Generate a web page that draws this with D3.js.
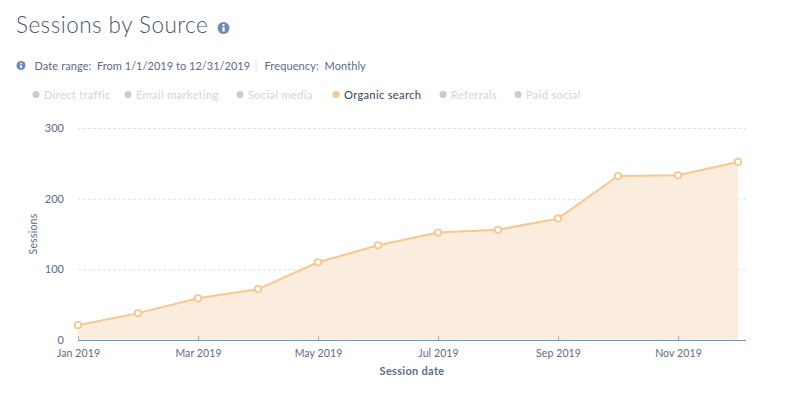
<!DOCTYPE html>
<html><head><meta charset="utf-8">
<script src="https://cdnjs.cloudflare.com/ajax/libs/d3/7.8.5/d3.min.js"></script>
<style>html,body{margin:0;background:#fff}svg{display:block;font-family:Lato,sans-serif}</style>
</head><body><svg id="c" width="800" height="401"></svg>
<script>
const months=["2019-01","2019-02","2019-03","2019-04","2019-05","2019-06","2019-07","2019-08","2019-09","2019-10","2019-11","2019-12"];
const sessions=[21,38,59,72,110,134,152,156,172,232,233,252];
const yTicks=[0,100,200,300];
const xTickMonths=["2019-01","2019-03","2019-05","2019-07","2019-09","2019-11"];
const xTickLabels=["Jan 2019","Mar 2019","May 2019","Jul 2019","Sep 2019","Nov 2019"];
const legendNames=["Direct traffic","Email marketing","Social media","Organic search","Referrals","Paid social"];
const legendActive=["Organic search"];
const legendX=[32,124,236,332,439,514];

const svg=d3.select("#c");
const x=d3.scalePoint().domain(months).range([78,738]);
const y=d3.scaleLinear().domain([0,300]).range([340,128]);
const dark="#33475b",mid="#5c6b84",line="#f8c78d";

svg.append("text").attr("x",16).attr("y",33).attr("font-size",22.5).attr("font-weight",300).attr("letter-spacing",0.47).attr("fill","#4a5472").text("Sessions by Source");
function info(cx,cy,r){
  const g=svg.append("g");
  g.append("circle").attr("cx",cx).attr("cy",cy).attr("r",r).attr("fill","#6a8bb3");
  g.append("rect").attr("x",cx-r*0.17).attr("y",cy-r*0.15).attr("width",r*0.36).attr("height",r*0.75).attr("fill","#fff");
  g.append("circle").attr("cx",cx).attr("cy",cy-r*0.48).attr("r",r*0.2).attr("fill","#fff");
}
info(223.5,28,6);
info(21,65.5,4.5);
const dateLine=svg.append("text").attr("y",69.5).attr("font-size",11).attr("letter-spacing",0.1).attr("fill",mid);
dateLine.append("tspan").attr("x",34.5).text("Date range:");
dateLine.append("tspan").attr("x",97).attr("letter-spacing",0.02).text("From 1/1/2019 to 12/31/2019");
svg.append("line").attr("x1",256).attr("x2",256).attr("y1",59).attr("y2",72).attr("stroke","#dfe3eb");
const freqLine=svg.append("text").attr("y",69.5).attr("font-size",11).attr("letter-spacing",0.1).attr("fill",mid);
freqLine.append("tspan").attr("x",264.5).text("Frequency:");
freqLine.append("tspan").attr("x",324.5).text("Monthly");

const lg=svg.append("g").selectAll("g").data(legendNames).join("g");
lg.append("circle").attr("cx",(d,i)=>legendX[i]+4).attr("cy",94.5).attr("r",3.5)
  .attr("fill",d=>legendActive.includes(d)?"#f8c78d":"#cbcbcb");
lg.append("text").attr("x",(d,i)=>legendX[i]+12).attr("y",98.5).attr("font-size",11.2).attr("letter-spacing",0.3)
  .attr("fill",d=>legendActive.includes(d)?dark:"#d4d4d4").text(d=>d);

svg.append("g").selectAll("line").data(yTicks.filter(d=>d>0)).join("line")
  .attr("x1",78).attr("x2",746).attr("y1",d=>y(d)+.5).attr("y2",d=>y(d)+.5)
  .attr("stroke","#dbe4f0").attr("stroke-dasharray","3,2");

const pts=months.map((m,i)=>({m,v:sessions[i]}));
svg.append("path").datum(pts).attr("fill","#fbeddd")
  .attr("d",d3.area().x(d=>x(d.m)).y0(y(0)).y1(d=>y(d.v)));
svg.append("path").datum(pts).attr("fill","none").attr("stroke",line).attr("stroke-width",2)
  .attr("d",d3.line().x(d=>x(d.m)).y(d=>y(d.v)));

const ax=d3.axisBottom(x).tickValues(xTickMonths).tickSize(0).tickFormat((d,i)=>xTickLabels[i]);
const gx=svg.append("g").attr("transform","translate(0,340)").call(ax);
gx.select(".domain").remove();
gx.selectAll("text").attr("font-family","Lato,sans-serif").attr("font-size",10.5).attr("letter-spacing",0.1).attr("fill",mid).attr("dy",0).attr("y",16.5);
gx.selectAll("line").attr("y1",0).attr("y2",-4).attr("stroke","#9fb3c8");
svg.append("line").attr("x1",78).attr("x2",746).attr("y1",340.5).attr("y2",340.5).attr("stroke","#7c98b6").attr("stroke-width",1);

const ay=d3.axisLeft(y).tickValues(yTicks).tickSize(0);
const gy=svg.append("g").attr("transform","translate(64,0)").call(ay);
gy.select(".domain").remove();
gy.selectAll("text").attr("font-family","Lato,sans-serif").attr("font-size",11).attr("fill",mid).attr("x",0).attr("dy","0.32em");

svg.append("g").selectAll("circle").data(pts).join("circle")
  .attr("cx",d=>x(d.m)).attr("cy",d=>y(d.v)).attr("r",3.2).attr("fill","#fff").attr("stroke",line).attr("stroke-width",1.8);

svg.append("text").attr("transform","translate(37,234) rotate(-90)").attr("text-anchor","middle").attr("font-size",10.5).attr("letter-spacing",0.2).attr("fill",mid).text("Sessions");
svg.append("text").attr("x",412).attr("y",375).attr("text-anchor","middle").attr("font-size",11).attr("font-weight",700).attr("letter-spacing",0.3).attr("fill",mid).text("Session date");
</script></body></html>
